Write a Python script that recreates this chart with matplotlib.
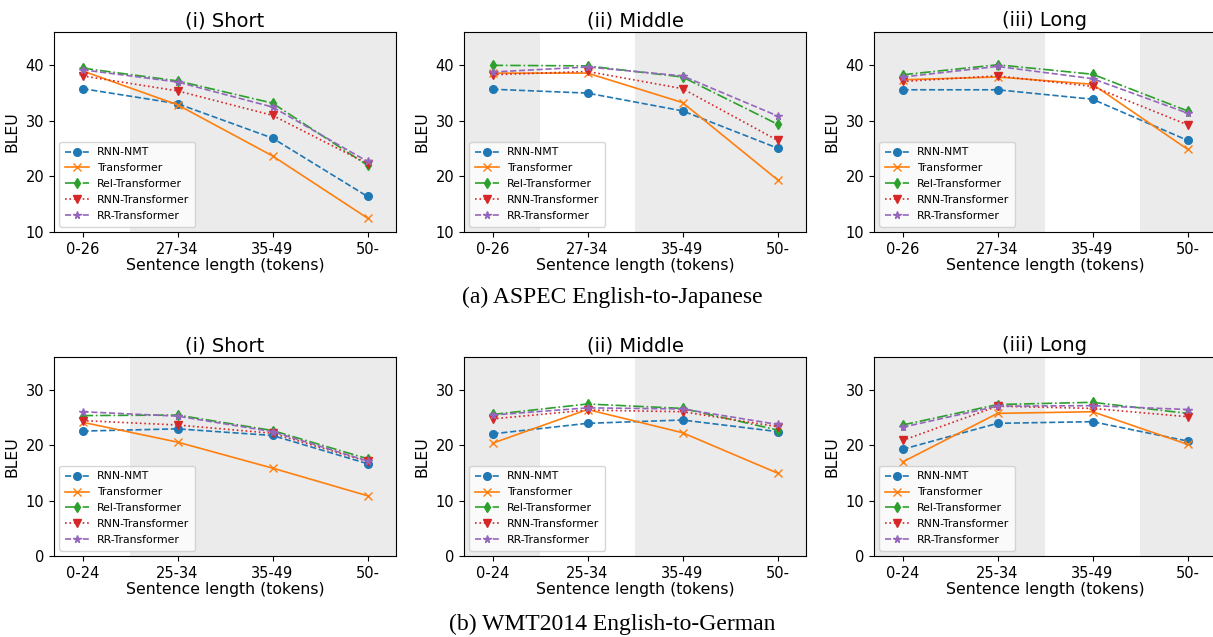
import numpy as np
import matplotlib
matplotlib.use('Agg')
import matplotlib.pyplot as plt

models = ['RNN-NMT', 'Transformer', 'Rel-Transformer', 'RNN-Transformer', 'RR-Transformer']
styles = ['--o', '-x', '-.d', ':v', '--*']
colors = ['tab:blue', 'tab:orange', 'tab:green', 'tab:red', 'tab:purple']

titles = ['(i) Short', '(ii) Middle', '(iii) Long']

# ASPEC English-to-Japanese
aspec_labels = ['0-26', '27-34', '35-49', '50-']
aspec_short = [
    [35.8, 33.1, 26.9, 16.4],
    [39.0, 32.9, 23.7, 12.5],
    [39.5, 37.2, 33.2, 22.0],
    [38.1, 35.4, 31.0, 22.3],
    [39.2, 37.0, 32.5, 22.7],
]
aspec_middle = [
    [35.7, 35.0, 31.8, 25.1],
    [38.6, 38.6, 33.3, 19.4],
    [40.0, 39.9, 37.9, 29.4],
    [38.3, 38.9, 35.8, 26.5],
    [38.8, 39.7, 38.1, 30.9],
]
aspec_long = [
    [35.6, 35.6, 33.9, 26.5],
    [37.4, 37.9, 36.6, 24.9],
    [38.3, 40.1, 38.4, 31.8],
    [37.1, 38.1, 36.2, 29.3],
    [37.9, 39.8, 37.6, 31.4],
]

# WMT2014 English-to-German
wmt_labels = ['0-24', '25-34', '35-49', '50-']
wmt_short = [
    [22.6, 23.0, 21.8, 16.7],
    [24.2, 20.6, 15.9, 10.9],
    [25.4, 25.5, 22.7, 17.6],
    [24.5, 23.7, 22.2, 17.1],
    [26.1, 25.3, 22.5, 17.2],
]
wmt_middle = [
    [22.1, 24.0, 24.6, 22.5],
    [20.4, 26.5, 22.3, 15.0],
    [25.6, 27.5, 26.7, 22.8],
    [24.8, 26.4, 26.1, 23.4],
    [25.5, 26.8, 26.6, 23.8],
]
wmt_long = [
    [19.3, 24.0, 24.3, 20.8],
    [17.0, 25.8, 26.1, 20.2],
    [23.7, 27.4, 27.8, 25.8],
    [20.9, 27.1, 26.7, 25.2],
    [23.3, 27.1, 27.2, 26.5],
]

# shaded (non-target) length buckets per column
shade = [[(0.5, 3.3)], [(-0.3, 0.5), (1.5, 3.3)], [(-0.3, 1.5), (2.5, 3.3)]]

W, H = 1213, 637
fig = plt.figure(figsize=(W / 100, H / 100), dpi=100)

rows = [
    (aspec_labels, [aspec_short, aspec_middle, aspec_long], (10, 46), [10, 20, 30, 40], 32, 232),
    (wmt_labels, [wmt_short, wmt_middle, wmt_long], (0, 36), [0, 10, 20, 30], 357, 556),
]
lefts = [54, 464, 874]
aw = 342

for labels, panels, ylim, yticks, top, bot in rows:
    for j, data in enumerate(panels):
        ax = fig.add_axes([lefts[j] / W, 1 - bot / H, aw / W, (bot - top) / H])
        for a, b in shade[j]:
            ax.axvspan(a, b, color='#ebebeb', lw=0, zorder=0)
        x = np.arange(len(labels))
        for k, m in enumerate(models):
            ax.plot(x, data[k], styles[k], color=colors[k], label=m,
                    lw=1.2, ms=5.5)
        ax.set_xlim(-0.3, 3.3)
        ax.set_ylim(*ylim)
        ax.set_xticks(x)
        ax.set_xticklabels(labels, fontsize=10.5)
        ax.set_yticks(yticks)
        ax.tick_params(axis='y', labelsize=10.5)
        ax.set_title(titles[j], fontsize=14, pad=4)
        ax.set_xlabel('Sentence length (tokens)', fontsize=11.3, labelpad=1)
        ax.set_ylabel('BLEU', fontsize=11.3)
        ax.legend(loc='lower left', fontsize=7.8, handlelength=2.2,
                  labelspacing=0.55, borderpad=0.5)

fig.text(612 / W, 1 - 297 / H, '(a) ASPEC English-to-Japanese', ha='center', va='center',
         family='Liberation Serif', fontsize=17)
fig.text(612 / W, 1 - 624 / H, '(b) WMT2014 English-to-German', ha='center', va='center',
         family='Liberation Serif', fontsize=17)

fig.savefig('out.png', dpi=100)
